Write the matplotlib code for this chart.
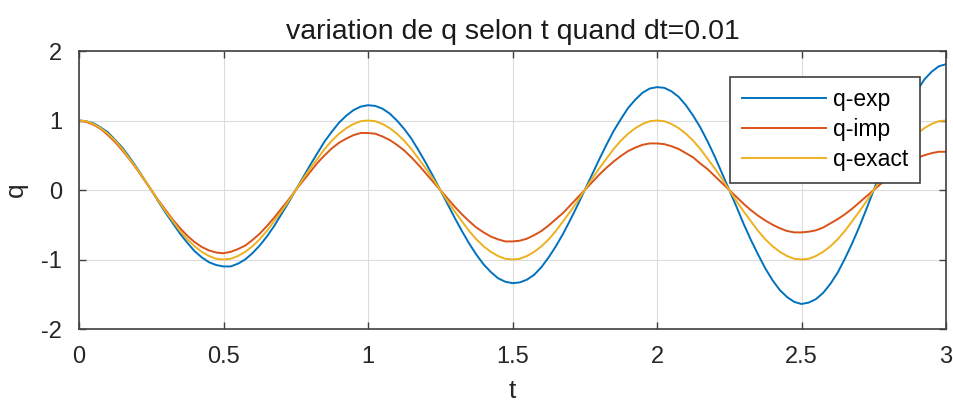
import matplotlib
matplotlib.use("Agg")
import matplotlib.pyplot as plt

plt.rcParams['font.family'] = ['Liberation Sans', 'DejaVu Sans']
plt.rcParams['axes.unicode_minus'] = False

# time axis, one sample every 0.025
t = [k * 0.025 for k in range(121)]

q_exp = [1.00, 0.99, 0.96, 0.90, 0.83, 0.72, 0.61, 0.47, 0.32, 0.16,
         0.00, -0.17, -0.33, -0.48, -0.63, -0.76, -0.88, -0.97, -1.04, -1.08,
         -1.10, -1.10, -1.06, -1.00, -0.91, -0.80, -0.67, -0.52, -0.35, -0.18,
         0.00, 0.18, 0.36, 0.53, 0.70, 0.84, 0.97, 1.07, 1.15, 1.20,
         1.22, 1.21, 1.17, 1.10, 1.00, 0.88, 0.74, 0.57, 0.39, 0.20,
         0.00, -0.20, -0.40, -0.59, -0.77, -0.93, -1.07, -1.18, -1.27, -1.32,
         -1.34, -1.33, -1.29, -1.22, -1.11, -0.97, -0.81, -0.63, -0.43, -0.22,
         0.00, 0.22, 0.44, 0.65, 0.85, 1.02, 1.18, 1.30, 1.40, 1.46,
         1.48, 1.47, 1.42, 1.34, 1.22, 1.07, 0.90, 0.70, 0.48, 0.24,
         0.00, -0.24, -0.49, -0.72, -0.93, -1.13, -1.30, -1.44, -1.54, -1.61,
         -1.64, -1.62, -1.57, -1.48, -1.35, -1.19, -0.99, -0.77, -0.53, -0.27,
         0.00, 0.27, 0.54, 0.79, 1.03, 1.25, 1.43, 1.59, 1.70, 1.78,
         1.81]

q_imp = [1.00, 0.98, 0.94, 0.88, 0.79, 0.69, 0.57, 0.44, 0.30, 0.15,
         0.00, -0.15, -0.29, -0.43, -0.55, -0.66, -0.75, -0.82, -0.87, -0.90,
         -0.91, -0.89, -0.85, -0.80, -0.72, -0.63, -0.52, -0.40, -0.27, -0.14,
         0.00, 0.13, 0.26, 0.39, 0.50, 0.60, 0.68, 0.74, 0.79, 0.82,
         0.82, 0.81, 0.77, 0.72, 0.65, 0.57, 0.47, 0.36, 0.24, 0.12,
         0.00, -0.12, -0.24, -0.35, -0.45, -0.54, -0.61, -0.67, -0.71, -0.74,
         -0.74, -0.73, -0.70, -0.65, -0.59, -0.51, -0.42, -0.33, -0.22, -0.11,
         0.00, 0.11, 0.22, 0.32, 0.41, 0.49, 0.56, 0.61, 0.65, 0.67,
         0.67, 0.66, 0.63, 0.59, 0.53, 0.47, 0.38, 0.30, 0.20, 0.10,
         0.00, -0.10, -0.20, -0.29, -0.37, -0.44, -0.50, -0.55, -0.59, -0.61,
         -0.61, -0.60, -0.58, -0.54, -0.48, -0.42, -0.35, -0.27, -0.18, -0.09,
         0.00, 0.09, 0.18, 0.26, 0.34, 0.40, 0.46, 0.50, 0.53, 0.55,
         0.55]

q_exact = [1.00, 0.99, 0.95, 0.89, 0.81, 0.71, 0.59, 0.45, 0.31, 0.16,
           0.00, -0.16, -0.31, -0.45, -0.59, -0.71, -0.81, -0.89, -0.95, -0.99,
           -1.00, -0.99, -0.95, -0.89, -0.81, -0.71, -0.59, -0.45, -0.31, -0.16,
           0.00, 0.16, 0.31, 0.45, 0.59, 0.71, 0.81, 0.89, 0.95, 0.99,
           1.00, 0.99, 0.95, 0.89, 0.81, 0.71, 0.59, 0.45, 0.31, 0.16,
           0.00, -0.16, -0.31, -0.45, -0.59, -0.71, -0.81, -0.89, -0.95, -0.99,
           -1.00, -0.99, -0.95, -0.89, -0.81, -0.71, -0.59, -0.45, -0.31, -0.16,
           0.00, 0.16, 0.31, 0.45, 0.59, 0.71, 0.81, 0.89, 0.95, 0.99,
           1.00, 0.99, 0.95, 0.89, 0.81, 0.71, 0.59, 0.45, 0.31, 0.16,
           0.00, -0.16, -0.31, -0.45, -0.59, -0.71, -0.81, -0.89, -0.95, -0.99,
           -1.00, -0.99, -0.95, -0.89, -0.81, -0.71, -0.59, -0.45, -0.31, -0.16,
           0.00, 0.16, 0.31, 0.45, 0.59, 0.71, 0.81, 0.89, 0.95, 0.99,
           1.00]

xticks = [0, 0.5, 1, 1.5, 2, 2.5, 3]
xlabels = ['0', '0.5', '1', '1.5', '2', '2.5', '3']
yticks = [-2, -1, 0, 1, 2]

fig = plt.figure(figsize=(9.54, 4.03), dpi=100)
ax = fig.add_axes([79/954, 1-329/403, (946-79)/954, (329-51)/403])

ax.plot(t, q_exp, color='#0072BD', lw=1.4, label='q-exp')
ax.plot(t, q_imp, color='#D95319', lw=1.4, label='q-imp')
ax.plot(t, q_exact, color='#EDB120', lw=1.4, label='q-exact')

ax.set_xlim(0, 3)
ax.set_ylim(-2, 2)
ax.set_xticks(xticks)
ax.set_xticklabels(xlabels)
ax.set_yticks(yticks)
ax.grid(True, color='#dcdcdc', lw=0.8)
ax.tick_params(direction='in', length=5, width=1, color='#404040',
               top=True, right=True, labelsize=17, labelcolor='#262626', pad=12)
for s in ax.spines.values():
    s.set_color('#404040')
    s.set_linewidth(1.2)

ax.set_title('variation de q selon t quand dt=0.01', fontsize=20.5, color='#1a1a1a', pad=9)
ax.set_xlabel('t', fontsize=19, color='#262626', labelpad=8)
ax.set_ylabel('q', fontsize=19, color='#262626', labelpad=10)

# opaque legend box, curves pass behind it
leg = ax.legend(loc='upper right', bbox_to_anchor=(920/954, 1-77/403), bbox_transform=fig.transFigure,
                fontsize=16.5, frameon=True, fancybox=False, framealpha=1, handlelength=3.7,
                borderpad=0.5, labelspacing=0.3, handletextpad=0.3, borderaxespad=0)
leg.get_frame().set_edgecolor('#404040')
leg.get_frame().set_linewidth(1.2)

fig.savefig('out.png', dpi=100)
